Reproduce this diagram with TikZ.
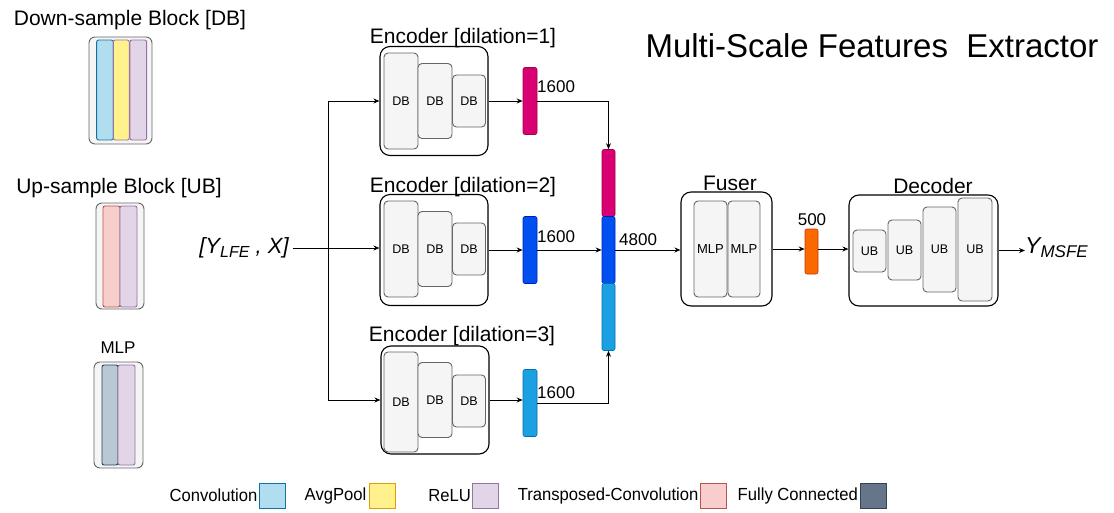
\documentclass[tikz,border=0pt]{standalone}
\usepackage{fontspec}
\setmainfont{Liberation Sans}
\newfontfamily\narrowfont[FakeStretch=0.95]{Liberation Sans}
\usepackage{xcolor}
\usepackage{tikz}
\usetikzlibrary{positioning, arrows.meta}

\newcommand{\fsz}[1]{\fontsize{#1}{#1}\selectfont}

\definecolor{convfill}{HTML}{B1DDF0}
\definecolor{convdraw}{HTML}{10739E}
\definecolor{poolfill}{HTML}{FFF28C}
\definecolor{pooldraw}{HTML}{DDA000}
\definecolor{relufill}{HTML}{E1D5E7}
\definecolor{reludraw}{HTML}{9673A6}
\definecolor{tconvfill}{HTML}{F8CECC}
\definecolor{tconvdraw}{HTML}{B85450}
\definecolor{fcfill}{HTML}{647687}
\definecolor{fcdraw}{HTML}{314354}
\definecolor{mlpfill}{HTML}{BAC8D3}
\definecolor{mlpdraw}{HTML}{23445D}
\definecolor{subfill}{HTML}{F5F5F5}
\definecolor{subdraw}{HTML}{666666}
\definecolor{featmag}{HTML}{D80073}
\definecolor{featmagd}{HTML}{A50040}
\definecolor{featblue}{HTML}{0050EF}
\definecolor{featblued}{HTML}{001DBC}
\definecolor{featcyan}{HTML}{1BA1E2}
\definecolor{featcyand}{HTML}{006EAF}
\definecolor{featorange}{HTML}{FA6800}
\definecolor{featoranged}{HTML}{C73500}

\begin{document}
\begin{tikzpicture}[
  x=1pt, y=-1pt,
  arr/.style={-{Stealth[length=6pt,width=5pt]}, line width=1pt},
  wire/.style={line width=1pt},
  outerbox/.style={
    draw=black, fill=white, line width=1.1pt,
    rounded corners=10pt, inner sep=0pt
  },
  sub/.style={
    draw=subdraw, fill=subfill, line width=0.9pt,
    rounded corners=4pt, inner sep=0pt, font=\fsz{12.5}
  },
  legendbox/.style={
    draw=subdraw, fill=subfill, line width=0.9pt,
    rounded corners=6pt, inner sep=0pt
  },
  layer/.style={
    line width=0.9pt, rounded corners=2pt, inner sep=0pt,
    minimum height=100pt
  },
  bar/.style={
    line width=0.6pt, rounded corners=2pt, inner sep=0pt,
    minimum width=14pt, minimum height=67pt
  },
  heading/.style={font=\fsz{21}, inner sep=0pt},
  num/.style={font=\fsz{17}, inner sep=1pt},
  swatch/.style={
    line width=0.9pt, inner sep=0pt,
    minimum width=26pt, minimum height=25pt
  },
  swatchtext/.style={font=\narrowfont\fsz{17.5}, inner sep=1pt}
]
\useasboundingbox (0,0) rectangle (1114,512);

% legend of the blocks
\node[heading, anchor=base] (dbtitle) at (130,25) {Down-sample Block [DB]};
\node[legendbox, minimum width=63pt, minimum height=107pt] (dblegend) at (120.5,90.5) {};
\node[layer, fill=convfill, draw=convdraw, minimum width=16.7pt] (dbconv) at (105,90) {};
\node[layer, fill=poolfill, draw=reludraw, minimum width=16pt] (dbpool) at (121.3,90) {};
\node[layer, fill=relufill, draw=reludraw, minimum width=16.7pt] (dbrelu) at (138.3,90) {};

\node[heading, anchor=base] (ubtitle) at (119,193) {Up-sample Block [UB]};
\node[legendbox, minimum width=48pt, minimum height=106pt] (ublegend) at (120,256) {};
\node[layer, fill=tconvfill, draw=tconvdraw, minimum width=17pt, minimum height=101pt] (ubtconv) at (111.5,256.5) {};
\node[layer, fill=relufill, draw=reludraw, minimum width=17pt, minimum height=101pt] (ubrelu) at (128.5,256.5) {};

\node[font=\fsz{17}, anchor=base, inner sep=0pt] (mlptitle) at (118,353) {MLP};
\node[legendbox, minimum width=49pt, minimum height=106pt] (mlplegend) at (118.5,415) {};
\node[layer, fill=mlpfill, draw=mlpdraw, minimum width=16pt] (mlpfc) at (110,415) {};
\node[layer, fill=relufill, draw=reludraw, minimum width=17pt] (mlprelu) at (126.5,415) {};

% title
\node[font=\fsz{33}, inner sep=0pt] (head) at (872,46) {Multi-Scale Features~ Extractor};

% input
\node[font=\fsz{22}\itshape, inner ysep=0pt, inner xsep=4pt] (inp) at (244,248)
  {[Y\raisebox{-0.35ex}{\fsz{16}LFE} , X]};
\coordinate (split) at (328,249);

% encoder 1
\node[outerbox, minimum width=108pt, minimum height=109pt] (enc1) at (434,101) {};
\node[sub, minimum width=34pt, minimum height=96pt] (e1a) at (401,101) {DB};
\node[sub, minimum width=34pt, minimum height=75pt] (e1b) at (435,101) {DB};
\node[sub, minimum width=33pt, minimum height=52pt] (e1c) at (469,101) {DB};
\node[heading, anchor=base] (e1title) at (463,43) {Encoder [dilation=1]};
\node[bar, fill=featmag, draw=featmagd] (f1) at (530,101) {};
\node[num, anchor=west] (n1) at (536,87) {1600};

% encoder 2
\node[outerbox, minimum width=108pt, minimum height=111pt] (enc2) at (434,250) {};
\node[sub, minimum width=34pt, minimum height=96pt] (e2a) at (401,249) {DB};
\node[sub, minimum width=34pt, minimum height=75pt] (e2b) at (435,249) {DB};
\node[sub, minimum width=33pt, minimum height=52pt] (e2c) at (469,249) {DB};
\node[heading, anchor=base] (e2title) at (463,192) {Encoder [dilation=2]};
\node[bar, fill=featblue, draw=featblued] (f2) at (530,250) {};
\node[num, anchor=west] (n2) at (536,237) {1600};

% encoder 3
\node[outerbox, minimum width=108pt, minimum height=108pt] (enc3) at (435,400) {};
\node[sub, minimum width=34pt, minimum height=100pt] (e3a) at (401,402) {DB};
\node[sub, minimum width=34pt, minimum height=75pt] (e3b) at (435,400) {DB};
\node[sub, minimum width=33pt, minimum height=52pt] (e3c) at (469,401) {DB};
\node[heading, anchor=base] (e3title) at (462,341) {Encoder [dilation=3]};
\node[bar, fill=featcyan, draw=featcyand] (f3) at (530,403) {};
\node[num, anchor=west] (n3) at (536,393) {1600};

% concatenated features
\node[bar, fill=featmag, draw=featmagd, minimum width=13pt] (cat1) at (608.5,183) {};
\node[bar, fill=featblue, draw=featblued, minimum width=13pt] (cat2) at (608.5,250) {};
\node[bar, fill=featcyan, draw=featcyand, minimum width=13pt] (cat3) at (608.5,317) {};
\node[num, anchor=west] (n4) at (618,240) {4800};

% fuser
\node[outerbox, minimum width=91pt, minimum height=114pt] (fuser) at (726.5,249) {};
\node[sub, font=\fsz{13}, minimum width=33pt, minimum height=96pt] (fa) at (710.5,249) {MLP};
\node[sub, font=\fsz{13}, minimum width=32pt, minimum height=96pt] (fb) at (744,249) {MLP};
\node[heading, anchor=base] (ftitle) at (730,190) {Fuser};

\node[bar, fill=featorange, draw=featoranged, minimum width=13pt, minimum height=45pt] (f5) at (811.5,251.5) {};
\node[num] (n5) at (812,220) {500};

% decoder
\node[outerbox, minimum width=149pt, minimum height=111pt] (dec) at (923.5,250.5) {};
\node[sub, minimum width=33pt, minimum height=42pt] (da) at (869.5,251) {UB};
\node[sub, minimum width=33pt, minimum height=60pt] (db) at (904.5,250) {UB};
\node[sub, minimum width=33pt, minimum height=85pt] (dc) at (939.5,249.5) {UB};
\node[sub, minimum width=34pt, minimum height=103pt] (dd) at (975,249.5) {UB};
\node[heading, anchor=base] (dtitle) at (933,193) {Decoder};

\node[font=\fsz{23}\itshape, inner sep=0pt, anchor=west] (out) at (1025,248)
  {Y\raisebox{-0.35ex}{\fsz{17}MSFE}};

% connectors
\draw[arr] (inp.east) -- (inp.east -| enc2.west);
\draw[wire] (split |- enc1) -- (split |- enc3);
\draw[arr] (split |- enc1) -- (enc1.west);
\draw[arr] (split |- enc3) -- (enc3.west);
\draw[arr] (enc1.east) -- (enc1.east -| f1.west);
\draw[arr] (enc2.east) -- (enc2.east -| f2.west);
\draw[arr] (enc3.east) -- (enc3.east -| f3.west);
\draw[arr] (f1.east) -| (cat1.north);
\draw[arr] (f2.east) -- (f2.east -| cat2.west);
\draw[arr] (f3.east) -| (cat3.south);
\draw[arr] (cat2.east) -- (cat2.east -| fuser.west);
\draw[arr] (fuser.east) -- (fuser.east -| f5.west);
\draw[arr] (fuser.east -| f5.east) -- (fuser.east -| dec.west);
\draw[arr] (dec.east) -- (dec.east -| out.west);

% legend of the layers
\node[swatch, fill=convfill, draw=convdraw] (sconv) at (272,495.5) {};
\node[swatchtext, left=0pt of sconv] (tconvtxt) {Convolution};
\node[swatch, fill=poolfill, draw=pooldraw] (spool) at (382,495.5) {};
\node[swatchtext, left=1pt of spool] (tpool) {AvgPool};
\node[swatch, fill=relufill, draw=reludraw] (srelu) at (485.5,495.5) {};
\node[swatchtext, left=0pt of srelu] (trelu) {ReLU};
\node[swatch, fill=tconvfill, draw=tconvdraw] (stconv) at (713,495.5) {};
\node[swatchtext, left=0pt of stconv] (ttconv) {Transposed-Convolution};
\node[swatch, fill=fcfill, draw=fcdraw] (sfc) at (873.5,495.5) {};
\node[swatchtext, left=1pt of sfc] (tfc) {Fully Connected};
\end{tikzpicture}
\end{document}
